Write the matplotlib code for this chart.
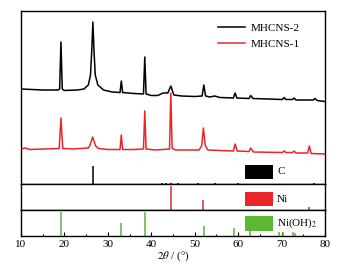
import matplotlib
matplotlib.use("Agg")
import matplotlib.pyplot as plt
from matplotlib.patches import Rectangle

plt.rcParams['font.family'] = ['Liberation Serif', 'DejaVu Serif']
plt.rcParams['mathtext.fontset'] = 'stix'

# MHCNS-2 (black), 2theta vs intensity (a.u.)
tt_2 = [10, 15, 18.5, 18.9, 19.2, 19.5, 20, 23, 24.5, 25.5, 26.0, 26.3, 26.55, 26.8, 27.1, 27.7,
        29, 31, 32.8, 33.1, 33.4, 36, 38.2, 38.5, 38.8, 40, 41.5, 42.7, 43.8, 44.5, 45.2, 47,
        50, 51.7, 52.1, 52.5, 53.5, 54.6, 55.8, 58.9, 59.3, 59.7, 62.5, 62.9, 63.4, 70.2, 70.6,
        71, 72.5, 72.9, 73.3, 77.3, 77.7, 78.2, 80]
int_2 = [95, 94, 94, 95, 142, 95, 93.5, 94, 95, 99, 109, 134, 162, 134, 109, 99,
         94, 92, 91.5, 103, 91.5, 90.5, 90, 127, 90, 88.5, 88.5, 91, 91, 98, 89, 88,
         87.5, 88, 99, 88, 87, 88, 86.5, 86, 91, 86, 85.5, 88.5, 85.5, 84.5, 86.5,
         84.5, 84.5, 86, 84, 84, 85.5, 83.5, 82.5]

# MHCNS-1 (red)
tt_1 = [10, 11, 12, 18.8, 19.2, 19.6, 22, 25.5, 25.8, 26.2, 26.5, 26.8, 27.2, 27.8, 30,
        32.8, 33.1, 33.4, 36, 38.2, 38.5, 38.8, 41, 44.2, 44.5, 44.8, 45.5, 51, 51.6, 52.0,
        52.4, 53, 58.9, 59.3, 59.8, 62.5, 62.9, 63.5, 70.2, 70.6, 71, 72.5, 72.9, 73.3,
        76.0, 76.4, 76.8, 80]
int_1 = [35, 36, 34.5, 35.5, 66, 35.5, 35, 36, 38, 43, 47, 43, 38, 35.5, 34.5,
         34.5, 49, 34.5, 34.5, 35, 73, 35, 34, 35, 91, 36, 34, 34, 38, 56,
         39, 34, 33, 40, 33, 32.5, 36, 32, 31.5, 33, 31.5, 31.5, 33, 31,
         31, 38, 30.5, 30]

# reference sticks
c_pos = [26.6, 42.4, 43.5, 44.6, 46.2, 50.7, 54.7, 59.9, 77.5]
c_int = [18, 1.5, 1.5, 1.5, 1.5, 1.5, 1.5, 1.5, 1.5]
ni_pos = [44.5, 51.8, 76.4]
ni_int = [24, 10, 3]
nioh_pos = [19.2, 33.1, 38.5, 52.1, 59.1, 62.7, 69.3, 70.3, 72.7, 73.2]
nioh_int = [24, 13, 24, 10, 8, 11, 4, 4, 4, 3]

fig = plt.figure(figsize=(3.52, 2.69), dpi=100)
L, W = 21 / 352, 304 / 352
H = 269
ax1 = fig.add_axes([L, 1 - 184 / H, W, 173 / H])
ax2 = fig.add_axes([L, 1 - 210 / H, W, 26 / H])
ax3 = fig.add_axes([L, 1 - 236 / H, W, 26 / H])

ax1.plot(tt_2, int_2, color='black', lw=1.1, label='MHCNS-2')
ax1.plot(tt_1, int_1, color='#e8262a', lw=1.1, label='MHCNS-1')
ax1.vlines(c_pos, 0, c_int, color='black', lw=1.1)
ax1.set_ylim(0, 173)
ax1.legend(loc='upper right', bbox_to_anchor=(0.95, 0.985), frameon=False, fontsize=8,
           handlelength=2.4, handletextpad=0.5, labelspacing=0.55)

ax2.vlines(ni_pos, 0, ni_int, color='#e8262a', lw=1.1)
ax2.set_ylim(0, 26)
ax3.vlines(nioh_pos, 0, nioh_int, color='#5cb832', lw=1.1)
ax3.set_ylim(0, 26)

panels = [(ax1, 'black', 'C', 5 / 173, 14 / 173),
          (ax2, '#e8262a', 'Ni', 4 / 26, 14 / 26),
          (ax3, '#5cb832', 'Ni(OH)$_2$', 5 / 26, 15 / 26)]
for ax, col, name, y0, h in panels:
    ax.add_patch(Rectangle((224 / 304, y0), 28 / 304, h, transform=ax.transAxes,
                           facecolor=col, edgecolor='none'))
    ax.text(256 / 304, y0 + h / 2, name, transform=ax.transAxes, fontsize=8,
            va='center', ha='left')

for ax in (ax1, ax2, ax3):
    ax.set_xlim(10, 80)
    ax.set_yticks([])
    for s in ax.spines.values():
        s.set_linewidth(1.0)
    ax.tick_params(axis='x', which='both', bottom=False, labelbottom=False)

ax3.set_xticks(range(10, 81, 10))
ax3.set_xticks(range(15, 80, 10), minor=True)
ax3.tick_params(axis='x', which='major', direction='in', bottom=True, labelbottom=True,
                length=3, width=0.8, labelsize=8, pad=3)
ax3.tick_params(axis='x', which='minor', direction='in', bottom=True, length=1.5, width=0.8)
ax3.set_xlabel(r'$2\theta$ / (°)', fontsize=8, labelpad=0)

fig.savefig('out.png', dpi=100)
